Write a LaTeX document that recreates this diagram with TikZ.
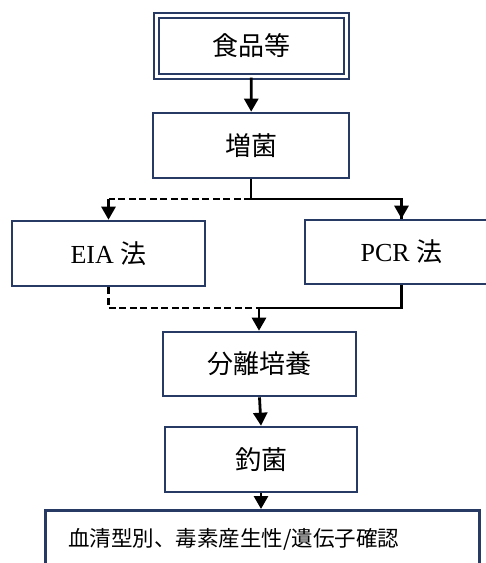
\documentclass[tikz,border=0pt]{standalone}
\usepackage{fontspec}
\setmainfont{Liberation Serif}
\newfontfamily\jpfont{Noto Sans CJK JP}
\usepackage{xcolor}
\usepackage{tikz}
\usetikzlibrary{arrows.meta,positioning,calc}
\definecolor{boxnavy}{RGB}{38,58,100}

\begin{document}
\begin{tikzpicture}[x=1pt,y=-1pt,
		stepbox/.style={draw=boxnavy,line width=2.6pt,fill=white,minimum width=193pt,minimum height=64pt,inner sep=0pt,font=\fontsize{26pt}{30pt}\selectfont},
		flow/.style={line width=2.8pt,-{Triangle[length=13pt,width=14pt]}},
		link/.style={line width=2.8pt},
		dashlink/.style={line width=2.6pt,dash pattern=on 7pt off 3.5pt}]
			\clip (0,0) rectangle (486,563);
			\fill[white] (0,0) rectangle (486,563);
			
			% boxes
			\node[stepbox,double=white,double distance=2.5pt,line width=2.4pt,minimum width=190pt,minimum height=61pt] (food) at (251.5,46) {\jpfont 食品等};
			\node[stepbox,minimum width=196pt,minimum height=65pt] (enrich) at (251,145.5) {\jpfont 増菌};
			\node[stepbox,minimum height=65pt] (eia) at (108.5,253.5) {EIA \jpfont 法};
			\node[stepbox] (pcr) at (401.5,252) {PCR \jpfont 法};
			\node[stepbox] (isolate) at (259.5,364) {\jpfont 分離培養};
			\node[stepbox,minimum width=192pt,minimum height=65pt] (pick) at (261,459.5) {\jpfont 釣菌};
			\node[stepbox,anchor=north west,minimum width=434pt,minimum height=58pt,text width=388pt,align=left,font=\fontsize{21.5pt}{26pt}\selectfont] (confirm) at (44,509) {\jpfont 血清型別、毒素産生性/遺伝子確認};
			
			\coordinate (split) at (251,199);
			\coordinate (merge) at (259,308);
			
			% arrows
			\draw[flow] (food) -- (enrich);
			\draw[link] (enrich.south) -- (split);
			\draw[dashlink] (split) -- (split -| eia);
			\draw[flow] (split -| eia) -- (eia.north);
			\draw[link] (split) -| (pcr.north);
			\draw[flow] (split -| pcr) -- (pcr.north);
			
			\draw[dashlink] (eia.south) |- (merge);
			\draw[link] (pcr.south) |- (merge);
			\draw[flow] (merge) -- (isolate.north -| merge);
			
			\draw[flow] (isolate.south) -- (pick.north);
			\draw[flow] (pick.south) -- (pick.south |- confirm.north);
		\end{tikzpicture}
\end{document}
